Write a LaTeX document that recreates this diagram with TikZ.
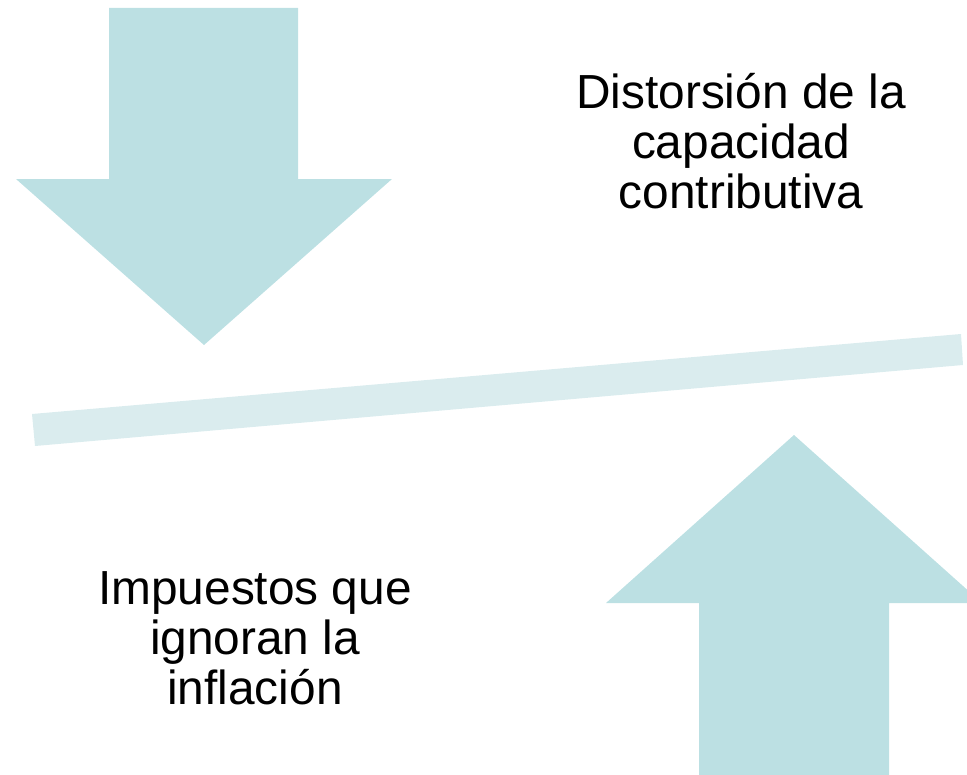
\documentclass[tikz,border=0pt]{standalone}
\usepackage{fontspec}
\setmainfont{Liberation Sans}
\usepackage{xcolor}
\definecolor{arrowblue}{HTML}{BCE0E3}
\definecolor{barblue}{HTML}{DAECEE}
\tikzset{
  bigarrow/.style={fill=arrowblue, draw=none},
  note/.style={align=center, inner sep=0pt, font=\fontsize{34}{35.5}\selectfont}
}
\begin{document}
\begin{tikzpicture}[x=0.025cm, y=-0.025cm]
		\clip (0,0) rectangle (967,775);
		% pressure from above
		\fill[bigarrow] (109,8) -- (298,8) -- (298,179) -- (392,179) -- (204,345) -- (16,179) -- (109,179) -- cycle;
		% the tilted bar
		\fill[barblue] (32,414) -- (961,334) -- (963,365) -- (35,446) -- cycle;
		% push from below
		\fill[bigarrow] (699,775) -- (699,603) -- (606,603) -- (794,435) -- (982,603) -- (889,603) -- (889,775) -- cycle;
		% texts
		\node[note] (distorsion) at (741,141) {Distorsión de la\\capacidad\\contributiva};
		\node[note] (impuestos) at (255,638) {Impuestos que\\ignoran la\\inflación};
\end{tikzpicture}
\end{document}
